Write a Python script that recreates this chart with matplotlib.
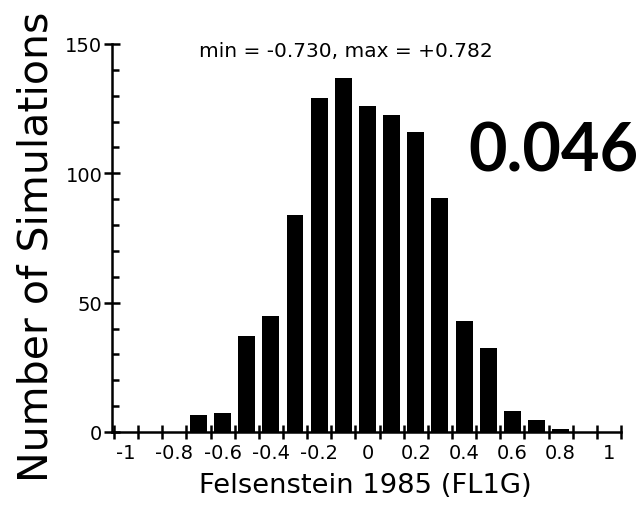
import numpy as np
import matplotlib
matplotlib.use("Agg")
import matplotlib.pyplot as plt

# histogram of the statistic over the simulations
bin_centers = [-0.7, -0.6, -0.5, -0.4, -0.3, -0.2, -0.1, 0.0,
               0.1, 0.2, 0.3, 0.4, 0.5, 0.6, 0.7, 0.8]
counts = [6.5, 7.5, 37, 45, 84, 129, 137, 126,
          122.5, 116, 90.5, 43, 32.5, 8, 4.5, 1]

xtick_values = [-1, -0.8, -0.6, -0.4, -0.2, 0, 0.2, 0.4, 0.6, 0.8, 1]
xtick_labels = ["-1", "-0.8", "-0.6", "-0.4", "-0.2", "0",
                "0.2", "0.4", "0.6", "0.8", "1"]
ytick_values = [0, 50, 100, 150]

range_text = "min = -0.730, max = +0.782"
score_text = "0.046"

plt.rcParams['font.family'] = ['DejaVu Sans']

fig = plt.figure(figsize=(6.43, 5.10), dpi=100)
ax = fig.add_axes([112 / 643, 1 - 433 / 510, 509 / 643, 388 / 510])

ax.bar(bin_centers, counts, width=0.07, color="black", linewidth=0)

ax.set_xlim(-1.058, 1.05)
ax.set_ylim(0, 150)

for side in ("top", "right"):
    ax.spines[side].set_visible(False)
for side in ("left", "bottom"):
    ax.spines[side].set_linewidth(1.8)

# x: ticks on the bin edges, labels between them
ax.set_xticks(np.arange(-1.05, 1.06, 0.1), labels=[])
ax.set_xticks(xtick_values, labels=xtick_labels, minor=True)
ax.tick_params(axis="x", which="major", direction="inout", length=10, width=1.8)
ax.tick_params(axis="x", which="minor", length=0, labelsize=14, pad=8)

ax.set_yticks(ytick_values)
ax.set_yticks(np.arange(10, 150, 10), minor=True)
ax.tick_params(axis="y", which="major", direction="inout", length=12, width=1.8,
               labelsize=14, pad=1)
ax.tick_params(axis="y", which="minor", direction="in", length=5, width=1.8)

ax.set_xlabel("Felsenstein 1985 (FL1G)", fontsize=19.7, va="baseline")
ax.xaxis.set_label_coords(0.498, -0.1546)
ax.set_ylabel("Number of Simulations", fontsize=29.5, va="baseline")
ax.yaxis.set_label_coords(-0.1277, 0.4807)

ax.text(-0.09, 145.3, range_text, fontsize=14.5, ha="center", va="baseline")
ax.text(0.772, 101, score_text, fontsize=48, fontweight="bold",
        family=["Lato", "DejaVu Sans"], ha="center", va="baseline")

fig.savefig("out.png", dpi=100)
